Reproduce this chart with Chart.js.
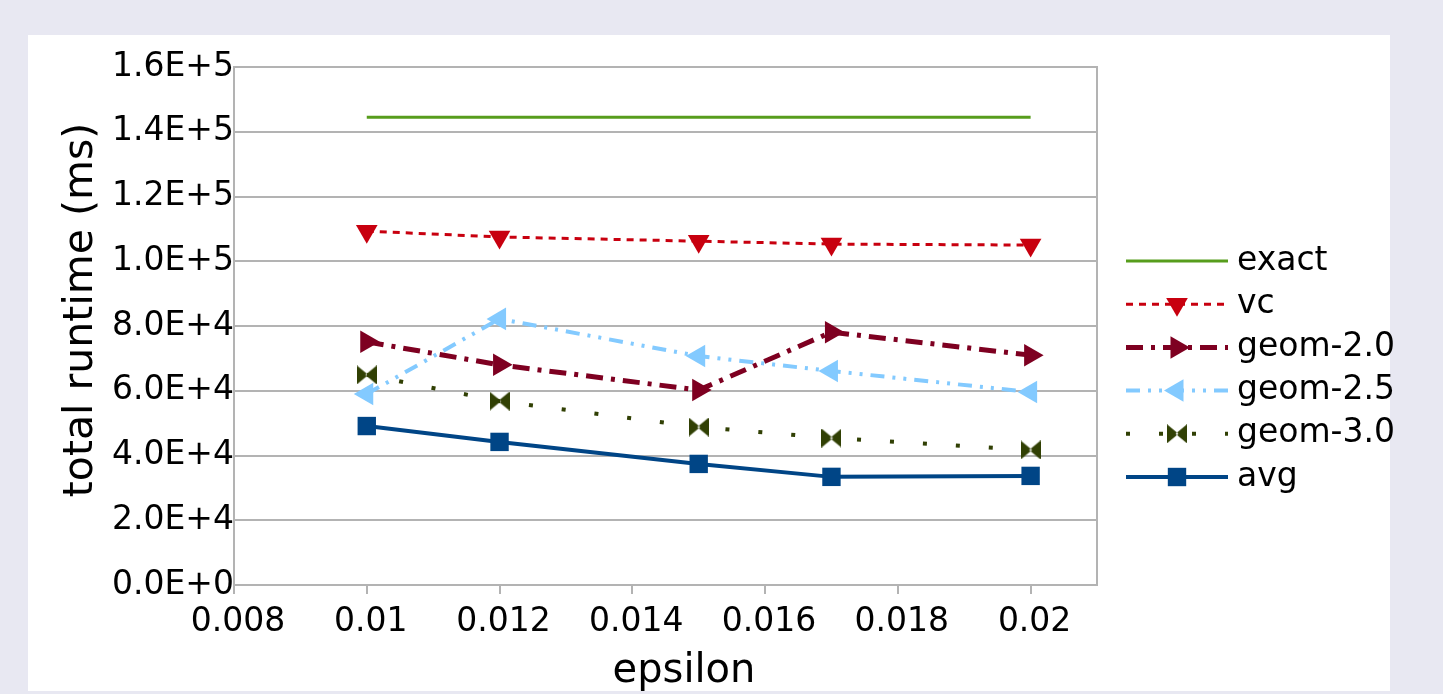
<!DOCTYPE html>
<html>
<head>
<meta charset="utf-8">
<script src="https://cdn.jsdelivr.net/npm/chart.js@4/dist/chart.umd.min.js"></script>
<style>
  html, body { margin: 0; padding: 0; width: 1443px; height: 694px; overflow: hidden; background: #e8e8f2; }
  #panel { position: absolute; left: 28px; top: 35px; width: 1362px; height: 656px; background: #ffffff; }
  #chart { position: absolute; left: 0; top: 0; display: block; }
</style>
</head>
<body>
<div id="panel"></div>
<canvas id="chart" width="1443" height="694"></canvas>
<script>
// epsilon settings and total runtime (ms) for each method
const epsilon = [0.01, 0.012, 0.015, 0.017, 0.02];
const exact   = [144500, 144500, 144500, 144500, 144500];
const vc      = [109300, 107500, 106200, 105300, 105000];
const geom20  = [75100, 68000, 60200, 78100, 71000];
const geom25  = [59000, 82200, 70700, 66100, 59600];
const geom30  = [64900, 56800, 48800, 45400, 41700];
const avg     = [49100, 44200, 37400, 33400, 33700];

const seriesNames = ['exact', 'vc', 'geom-2.0', 'geom-2.5', 'geom-3.0', 'avg'];
const xTicks = [0.008, 0.01, 0.012, 0.014, 0.016, 0.018, 0.02];
const yTicks = [0, 20000, 40000, 60000, 80000, 100000, 120000, 140000, 160000];
const xTitle = 'epsilon';
const yTitle = 'total runtime (ms)';

const FONT = "'DejaVu Sans', 'Liberation Sans', sans-serif";

// bow-tie marker: two triangles meeting at the centre
function bowtie(color, w, h) {
  const c = document.createElement('canvas');
  c.width = w; c.height = h;
  const g = c.getContext('2d');
  g.fillStyle = color;
  g.beginPath();
  g.moveTo(0, 0); g.lineTo(w / 2 + 1.5, h / 2); g.lineTo(0, h); g.closePath();
  g.moveTo(w, 0); g.lineTo(w / 2 - 1.5, h / 2); g.lineTo(w, h); g.closePath();
  g.fill();
  return c;
}

const pts = arr => epsilon.map((x, i) => ({ x: x, y: arr[i] }));

const datasets = [
  { label: seriesNames[0], data: pts(exact), borderColor: '#579d1c', backgroundColor: '#579d1c',
    borderWidth: 3, pointRadius: 0, pointStyle: false },
  { label: seriesNames[1], data: pts(vc), borderColor: '#c8000f', backgroundColor: '#c8000f',
    borderWidth: 3, borderDash: [7, 6], pointStyle: 'triangle', pointRotation: 180, pointRadius: 12.5 },
  { label: seriesNames[2], data: pts(geom20), borderColor: '#7e0021', backgroundColor: '#7e0021',
    borderWidth: 5, borderDash: [17, 8, 4, 8], pointStyle: 'triangle', pointRotation: 90, pointRadius: 13 },
  { label: seriesNames[3], data: pts(geom25), borderColor: '#83caff', backgroundColor: '#83caff',
    borderWidth: 4, borderDash: [14, 8, 3, 8, 3, 8], pointStyle: 'triangle', pointRotation: 270, pointRadius: 13 },
  { label: seriesNames[4], data: pts(geom30), borderColor: '#314004', backgroundColor: '#314004',
    borderWidth: 4, borderDash: [4, 29], pointStyle: bowtie('#314004', 20, 19), pointRadius: 10 },
  { label: seriesNames[5], data: pts(avg), borderColor: '#004586', backgroundColor: '#004586',
    borderWidth: 4, pointStyle: 'rect', pointRadius: 13 }
];
datasets.forEach(d => {
  d.tension = 0;
  d.fill = false;
  d.pointBorderWidth = 0;
  d.pointBackgroundColor = d.backgroundColor;
  d.borderCapStyle = 'butt';
});

// frame around the plot area
const frame = {
  id: 'frame',
  afterDatasetsDraw(chart) {
    const { ctx, chartArea: a } = chart;
    ctx.save();
    ctx.strokeStyle = '#b3b3b3';
    ctx.lineWidth = 2;
    ctx.beginPath();
    ctx.moveTo(a.left, a.top); ctx.lineTo(a.right, a.top); ctx.lineTo(a.right, a.bottom);
    ctx.stroke();
    ctx.restore();
  }
};

// axis titles and the legend on the right
const annotations = {
  id: 'annotations',
  afterDraw(chart) {
    const ctx = chart.ctx;
    ctx.save();
    ctx.fillStyle = '#000';
    ctx.textAlign = 'center';
    ctx.textBaseline = 'middle';
    ctx.font = '40px ' + FONT;
    ctx.fillText(xTitle, 684, 672);
    ctx.save();
    ctx.translate(81, 310);
    ctx.rotate(-Math.PI / 2);
    ctx.font = '41px ' + FONT;
    ctx.fillText(yTitle, 0, 0);
    ctx.restore();

    const x0 = 1126, x1 = 1228, xm = 1177, xt = 1237;
    chart.data.datasets.forEach((ds, i) => {
      const y = 261 + i * 43.2;
      ctx.save();
      ctx.strokeStyle = ds.borderColor;
      ctx.lineWidth = ds.borderWidth;
      ctx.setLineDash(ds.borderDash || []);
      ctx.lineCap = 'butt';
      ctx.beginPath();
      ctx.moveTo(x0, y); ctx.lineTo(x1, y);
      ctx.stroke();
      ctx.restore();
      if (ds.pointStyle) {
        ctx.save();
        ctx.fillStyle = ds.backgroundColor;
        Chart.helpers.drawPoint(ctx, {
          pointStyle: ds.pointStyle, radius: ds.pointRadius,
          rotation: ds.pointRotation || 0, borderWidth: 0
        }, xm, y);
        ctx.restore();
      }
      ctx.fillStyle = '#000';
      ctx.font = '33px ' + FONT;
      ctx.textAlign = 'left';
      ctx.textBaseline = 'middle';
      ctx.fillText(ds.label, xt, y);
    });
    ctx.restore();
  }
};

new Chart(document.getElementById('chart'), {
  type: 'line',
  data: { datasets: datasets },
  plugins: [frame, annotations],
  options: {
    responsive: false,
    animation: false,
    devicePixelRatio: 1,
    layout: { padding: { top: 67, right: 346, bottom: 0, left: 0 } },
    plugins: { legend: { display: false }, tooltip: { enabled: false } },
    scales: {
      x: {
        type: 'linear', min: 0.008, max: 0.021,
        afterBuildTicks: s => { s.ticks = xTicks.map(v => ({ value: v })); },
        afterFit: s => { s.height = 109; },
        grid: { display: true, drawOnChartArea: false, drawTicks: true, tickLength: 9, color: '#b3b3b3', lineWidth: 2 },
        border: { display: true, color: '#b3b3b3', width: 2 },
        ticks: { color: '#000', font: { size: 33, family: FONT }, padding: 9, labelOffset: 4, maxRotation: 0, autoSkip: false,
                 callback: v => String(+Number(v).toFixed(3)) }
      },
      y: {
        type: 'linear', min: 0, max: 160000,
        afterBuildTicks: s => { s.ticks = yTicks.map(v => ({ value: v })); },
        afterFit: s => { s.width = 234; },
        grid: { color: '#b3b3b3', lineWidth: 2, drawTicks: false },
        border: { display: true, color: '#b3b3b3', width: 2 },
        ticks: { color: '#000', font: { size: 33, family: FONT }, padding: 0,
                 callback: v => Number(v).toExponential(1).replace('e', 'E') }
      }
    }
  }
});
</script>
</body>
</html>
